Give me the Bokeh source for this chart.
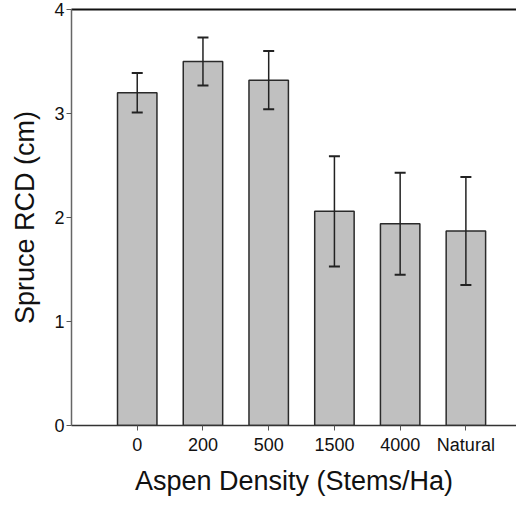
from bokeh.plotting import figure
from bokeh.models import Range1d, FixedTicker, LinearAxis, Whisker, TeeHead, ColumnDataSource
from bokeh.embed import file_html
from bokeh.resources import INLINE

categories = ["0", "200", "500", "1500", "4000", "Natural"]
rcd_mean = [3.20, 3.50, 3.32, 2.06, 1.94, 1.87]
rcd_err = [0.19, 0.23, 0.28, 0.53, 0.49, 0.52]
y_ticks = [0, 1, 2, 3, 4]

positions = [i + 1 for i in range(len(categories))]
src = ColumnDataSource(dict(
    x=positions,
    top=rcd_mean,
    upper=[m + e for m, e in zip(rcd_mean, rcd_err)],
    lower=[m - e for m, e in zip(rcd_mean, rcd_err)],
))

FONT = "Liberation Sans"

p = figure(width=516, height=498, output_backend="svg", toolbar_location=None,
           x_range=Range1d(0.0, 6.77), y_range=Range1d(0, 4),
           min_border_left=71, min_border_right=0, min_border_top=9, min_border_bottom=0)
p.outline_line_color = None
p.xgrid.visible = False
p.ygrid.visible = False
p.background_fill_color = "white"

p.vbar(x="x", top="top", width=0.6, bottom=0, source=src,
       fill_color="#c0c0c0", line_color="#2a2a2a", line_width=1.5)

w = Whisker(base="x", upper="upper", lower="lower", source=src, level="overlay",
            line_color="#222222", line_width=1.5,
            upper_head=TeeHead(size=11, line_color="#222222", line_width=2),
            lower_head=TeeHead(size=11, line_color="#222222", line_width=2))
p.add_layout(w)

# x axis
xa = p.xaxis[0]
xa.ticker = FixedTicker(ticks=positions)
xa.major_label_overrides = {pos: c for pos, c in zip(positions, categories)}
xa.axis_label = "Aspen Density (Stems/Ha)"
xa.axis_label_text_font = FONT
xa.axis_label_text_font_size = "27px"
xa.axis_label_text_font_style = "normal"
xa.axis_label_text_color = "#111111"
xa.axis_label_standoff = 8
xa.major_label_text_font = FONT
xa.major_label_text_font_size = "18px"
xa.major_label_text_color = "#111111"
xa.major_label_standoff = 4
xa.major_tick_in = 0
xa.major_tick_out = 5
xa.minor_tick_line_color = None
xa.axis_line_color = "#333333"
xa.axis_line_width = 1.5
xa.major_tick_line_color = "#555555"

# y axis
ya = p.yaxis[0]
ya.ticker = FixedTicker(ticks=y_ticks)
ya.axis_label = "Spruce RCD (cm)"
ya.axis_label_text_font = FONT
ya.axis_label_text_font_size = "27px"
ya.axis_label_text_font_style = "normal"
ya.axis_label_text_color = "#111111"
ya.axis_label_standoff = 11
ya.major_label_text_font = FONT
ya.major_label_text_font_size = "18px"
ya.major_label_text_color = "#111111"
ya.major_label_standoff = 2
ya.major_tick_in = 0
ya.major_tick_out = 5
ya.minor_tick_line_color = None
ya.axis_line_color = "#666666"
ya.axis_line_width = 1.5
ya.major_tick_line_color = "#555555"

# top border line
top_ax = LinearAxis(ticker=FixedTicker(ticks=[]), axis_line_color="#111111", axis_line_width=2,
                    major_tick_line_color=None, minor_tick_line_color=None,
                    major_label_text_font_size="0px")
p.add_layout(top_ax, "above")

open("out.html", "w").write(file_html(p, INLINE))
